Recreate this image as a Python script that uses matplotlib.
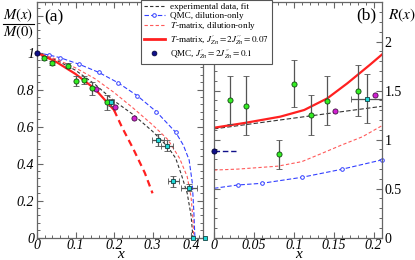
import matplotlib
matplotlib.use("Agg")
import matplotlib.pyplot as plt
from matplotlib.ticker import MultipleLocator, FuncFormatter
from matplotlib.lines import Line2D

plt.rcParams['font.family'] = ['Liberation Serif', 'DejaVu Serif']
plt.rcParams['mathtext.fontset'] = 'stix'

# ---------------- panel (a): M(x)/M(0) ----------------
fit_a_x = [0.0, 0.05, 0.10, 0.15, 0.20, 0.25, 0.30, 0.34, 0.36, 0.375, 0.39, 0.40, 0.405]
fit_a_y = [1.0, 0.96, 0.905, 0.83, 0.74, 0.665, 0.575, 0.49, 0.43, 0.34, 0.24, 0.12, 0.0]

qmc_a_x = [0.0, 0.03, 0.06, 0.11, 0.16, 0.21, 0.26, 0.31, 0.36, 0.38, 0.395, 0.403, 0.407, 0.41]
qmc_a_y = [1.0, 0.988, 0.973, 0.937, 0.894, 0.838, 0.768, 0.681, 0.57, 0.50, 0.42, 0.30, 0.15, 0.0]

tm_a_x = [0.0, 0.05, 0.10, 0.15, 0.20, 0.25, 0.30, 0.34, 0.37, 0.39, 0.40, 0.405, 0.407]
tm_a_y = [1.0, 0.965, 0.918, 0.86, 0.785, 0.70, 0.61, 0.53, 0.43, 0.33, 0.22, 0.10, 0.0]

tmJ_a_x = [0.0, 0.05, 0.10, 0.15, 0.20]
tmJ_a_y = [1.0, 0.95, 0.885, 0.805, 0.69]
tmJ_a_ext_x = [0.20, 0.22, 0.25, 0.28, 0.30]
tmJ_a_ext_y = [0.69, 0.60, 0.48, 0.35, 0.24]

green_a_x = [0.019, 0.040, 0.081, 0.101, 0.123, 0.142, 0.183]
green_a_y = [0.973, 0.946, 0.930, 0.847, 0.852, 0.808, 0.732]
green_a_err = [0.01, 0.01, 0.015, 0.025, 0.02, 0.035, 0.04]

cyan_a_x = [0.191, 0.314, 0.338, 0.354, 0.395]
cyan_a_y = [0.732, 0.528, 0.497, 0.306, 0.270]
cyan_a_xerr = [0.01, 0.015, 0.015, 0.015, 0.02]
cyan_a_yerr = [0.02, 0.03, 0.03, 0.03, 0.02]
cyan0_a_x = [0.404, 0.436]
cyan0_a_y = [0.0, 0.0]

mag_a_x = [0.152, 0.203, 0.252]
mag_a_y = [0.805, 0.708, 0.647]

navy_a_x = [0.0]
navy_a_y = [1.0]

# ---------------- panel (b): R(x) ----------------
fit_b_x = [0.0, 0.05, 0.10, 0.15, 0.21]
fit_b_y = [1.11, 1.165, 1.22, 1.275, 1.34]

qmc_b_x = [0.0, 0.03, 0.06, 0.11, 0.16, 0.21]
qmc_b_y = [0.504, 0.538, 0.555, 0.616, 0.698, 0.793]

tm_b_x = [0.0, 0.03, 0.08, 0.11, 0.135, 0.16, 0.186, 0.212]
tm_b_y = [0.69, 0.70, 0.73, 0.776, 0.86, 0.946, 1.03, 1.15]

tmJ_b_x = [0.0, 0.04, 0.083, 0.113, 0.142, 0.167, 0.195, 0.212]
tmJ_b_y = [1.122, 1.173, 1.235, 1.303, 1.422, 1.575, 1.762, 1.88]

green_b_x = [0.020, 0.040, 0.081, 0.100, 0.121, 0.141, 0.181]
green_b_y = [1.405, 1.347, 0.851, 1.571, 1.252, 1.395, 1.50]
green_b_err = [0.24, 0.30, 0.15, 0.24, 0.20, 0.25, 0.26]

cyan_b_x = [0.192]
cyan_b_y = [1.418]
cyan_b_xerr = [0.02]
cyan_b_yerr = [0.25]

mag_b_x = [0.151, 0.202]
mag_b_y = [1.296, 1.459]

navy_b_x = [0.0]
navy_b_y = [0.881]
navy_b_line_x = [0.0, 0.027]
navy_b_line_y = [0.881, 0.881]

# ---------------- styles ----------------
C_BLACK = '#333333'
C_BLUE = '#3340ff'
C_RED = '#ff2020'
C_RED_L = '#ff5a5a'
C_GREEN = '#33ee22'
C_CYAN = '#22d8d8'
C_MAG = '#d020d0'
C_NAVY = '#10108a'
C_ERR = '#555555'
SPINE = '#666666'
MS_C = 3.7
MS_S = 3.4

W, H = 415, 260
fig = plt.figure(figsize=(W / 100, H / 100), dpi=100)
axA = fig.add_axes([37 / W, 1 - 237.7 / H, 166 / W, 235.7 / H])
axB = fig.add_axes([214 / W, 1 - 237.7 / H, 168 / W, 235.7 / H])

fmt = FuncFormatter(lambda v, p: '%g' % round(v, 3))
fmtA_y = FuncFormatter(lambda v, p: '%g' % round(v, 3) if v < 1.1 else '')

def style(ax):
    for s in ax.spines.values():
        s.set_color(SPINE)
        s.set_linewidth(0.9)
    ax.tick_params(which='both', direction='in', top=True, right=True,
                   color=SPINE, labelsize=10, pad=2)
    ax.tick_params(axis='x', which='both', pad=0.8)
    ax.tick_params(which='major', length=4, width=0.8)
    ax.tick_params(which='minor', length=2.2, width=0.7)
    for lab in ax.get_xticklabels() + ax.get_yticklabels():
        lab.set_fontstyle('italic')
    ax.xaxis.set_major_formatter(fmt)

dash_thin = (0, (3, 2))

# panel a
axA.plot(fit_a_x, fit_a_y, color=C_BLACK, lw=0.8, ls=dash_thin)
axA.plot(qmc_a_x, qmc_a_y, color=C_BLUE, lw=0.8, ls=(0, (4, 2)),
         marker='o', ms=2.6, mfc='white', mec=C_BLUE, mew=0.7, markevery=list(range(1, 9)))
axA.plot(tm_a_x, tm_a_y, color=C_RED_L, lw=0.8, ls=dash_thin)
axA.plot(tmJ_a_x, tmJ_a_y, color=C_RED, lw=1.6)
axA.plot(tmJ_a_ext_x, tmJ_a_ext_y, color=C_RED, lw=1.6, ls=(0, (3, 2)))

axA.errorbar(green_a_x, green_a_y, yerr=green_a_err, fmt='o', ms=MS_C, mfc=C_GREEN,
             mec='#114411', mew=0.6, ecolor=C_ERR, elinewidth=0.9, capsize=2, zorder=5)
axA.errorbar(cyan_a_x, cyan_a_y, xerr=cyan_a_xerr, yerr=cyan_a_yerr, fmt='s', ms=MS_S,
             mfc=C_CYAN, mec='#114444', mew=0.6, ecolor=C_ERR, elinewidth=0.9, capsize=2, zorder=5)
axA.plot(cyan0_a_x, cyan0_a_y, 's', ms=MS_S, mfc=C_CYAN, mec='#114444', mew=0.6,
         clip_on=False, zorder=6)
axA.plot(mag_a_x, mag_a_y, 'o', ms=MS_C, mfc=C_MAG, mec='#441144', mew=0.6, zorder=5)
axA.plot(navy_a_x, navy_a_y, 'o', ms=MS_C, mfc=C_NAVY, mec='#000033', mew=0.6, zorder=6,
         clip_on=False)

axA.set_xlim(0, 0.431)
axA.set_ylim(0, 1.274)
axA.xaxis.set_major_locator(MultipleLocator(0.1))
axA.xaxis.set_minor_locator(MultipleLocator(0.02))
axA.yaxis.set_major_locator(MultipleLocator(0.2))
axA.yaxis.set_minor_locator(MultipleLocator(0.04))
style(axA)
axA.yaxis.set_major_formatter(fmtA_y)
axA.text(0.045, 0.935, '(a)', transform=axA.transAxes, fontsize=12.5, va='center', ha='left')

# panel b
axB.plot(fit_b_x, fit_b_y, color=C_BLACK, lw=0.8, ls=(0, (4, 2)))
axB.plot(qmc_b_x, qmc_b_y, color=C_BLUE, lw=0.8, ls=(0, (4, 2)),
         marker='o', ms=2.6, mfc='white', mec=C_BLUE, mew=0.7, markevery=list(range(1, 6)),
         clip_on=False)
axB.plot(tm_b_x, tm_b_y, color=C_RED_L, lw=0.8, ls=dash_thin)
axB.plot(tmJ_b_x, tmJ_b_y, color=C_RED, lw=1.6)
axB.plot(navy_b_line_x, navy_b_line_y, color=C_NAVY, lw=1.0, ls=(0, (4, 2)))
axB.errorbar(green_b_x, green_b_y, yerr=green_b_err, fmt='o', ms=MS_C, mfc=C_GREEN,
             mec='#114411', mew=0.6, ecolor=C_ERR, elinewidth=0.9, capsize=2, zorder=5)
axB.errorbar(cyan_b_x, cyan_b_y, xerr=cyan_b_xerr, yerr=cyan_b_yerr, fmt='s', ms=MS_S,
             mfc=C_CYAN, mec='#114444', mew=0.6, ecolor=C_ERR, elinewidth=0.9, capsize=2, zorder=5)
axB.plot(mag_b_x, mag_b_y, 'o', ms=MS_C, mfc=C_MAG, mec='#441144', mew=0.6, zorder=5)
axB.plot(navy_b_x, navy_b_y, 'o', ms=MS_C, mfc=C_NAVY, mec='#000033', mew=0.6, zorder=6,
         clip_on=False)

axB.set_xlim(0, 0.2105)
axB.set_ylim(0, 2.405)
axB.xaxis.set_major_locator(MultipleLocator(0.05))
axB.xaxis.set_minor_locator(MultipleLocator(0.01))
axB.yaxis.set_major_locator(MultipleLocator(0.5))
axB.yaxis.set_minor_locator(MultipleLocator(0.1))
style(axB)
axB.yaxis.set_major_formatter(fmt)
axB.yaxis.tick_right()
axB.tick_params(which='both', left=True, right=True, labelleft=False, labelright=True)
axB.text(0.905, 0.945, '(b)', transform=axB.transAxes, fontsize=12.5, va='center', ha='center')

# axis titles
fig.text(120.5 / W, 1 - 257.5 / H, 'x', fontsize=11, style='italic', ha='center', va='baseline')
fig.text(298.5 / W, 1 - 257.5 / H, 'x', fontsize=11, style='italic', ha='center', va='baseline')
fig.text(18 / W, 1 - 15 / H, '$M(x)$', fontsize=10.5, ha='center', va='center')
fig.text(18 / W, 1 - 32 / H, '$M(0)$', fontsize=10.5, ha='center', va='center')
fig.add_artist(Line2D([3 / W, 34 / W], [1 - 24 / H, 1 - 24 / H], color='black', lw=0.8))
fig.text(402 / W, 1 - 15 / H, '$R(x)$', fontsize=11, ha='center', va='center')

# legend
handles = [
    Line2D([], [], color=C_BLACK, lw=0.8, ls=dash_thin),
    Line2D([], [], color=C_BLUE, lw=0.8, ls=(0, (4, 2)), marker='o', ms=2.6, mfc='white',
           mec=C_BLUE, mew=0.7),
    Line2D([], [], color=C_RED_L, lw=0.8, ls=dash_thin),
    Line2D([], [], color=C_RED, lw=2.0),
    Line2D([], [], ls='none', marker='o', ms=3.5, mfc=C_NAVY, mec='#000033', mew=0.5),
]
labels = [
    'experimental data, fit',
    'QMC, dilution-only',
    '$T$-matrix, dilution-only',
    r"$T$-matrix, $J^{\prime}_{Zn}=2J^{\prime\prime}_{Zn}=0.07$",
    r"QMC, $J^{\prime}_{Zn}=2J^{\prime\prime}_{Zn}=0.1$",
]
leg = fig.legend(handles, labels, loc='upper left', bbox_to_anchor=(141 / W, 1.0),
                 fontsize=6.6, frameon=True, fancybox=False, edgecolor='#555555',
                 framealpha=1, borderpad=0.3, labelspacing=0.05, handlelength=2.3,
                 handletextpad=0.6, borderaxespad=0)
leg.get_frame().set_linewidth(0.8)

fig.savefig('out.png', dpi=100)
